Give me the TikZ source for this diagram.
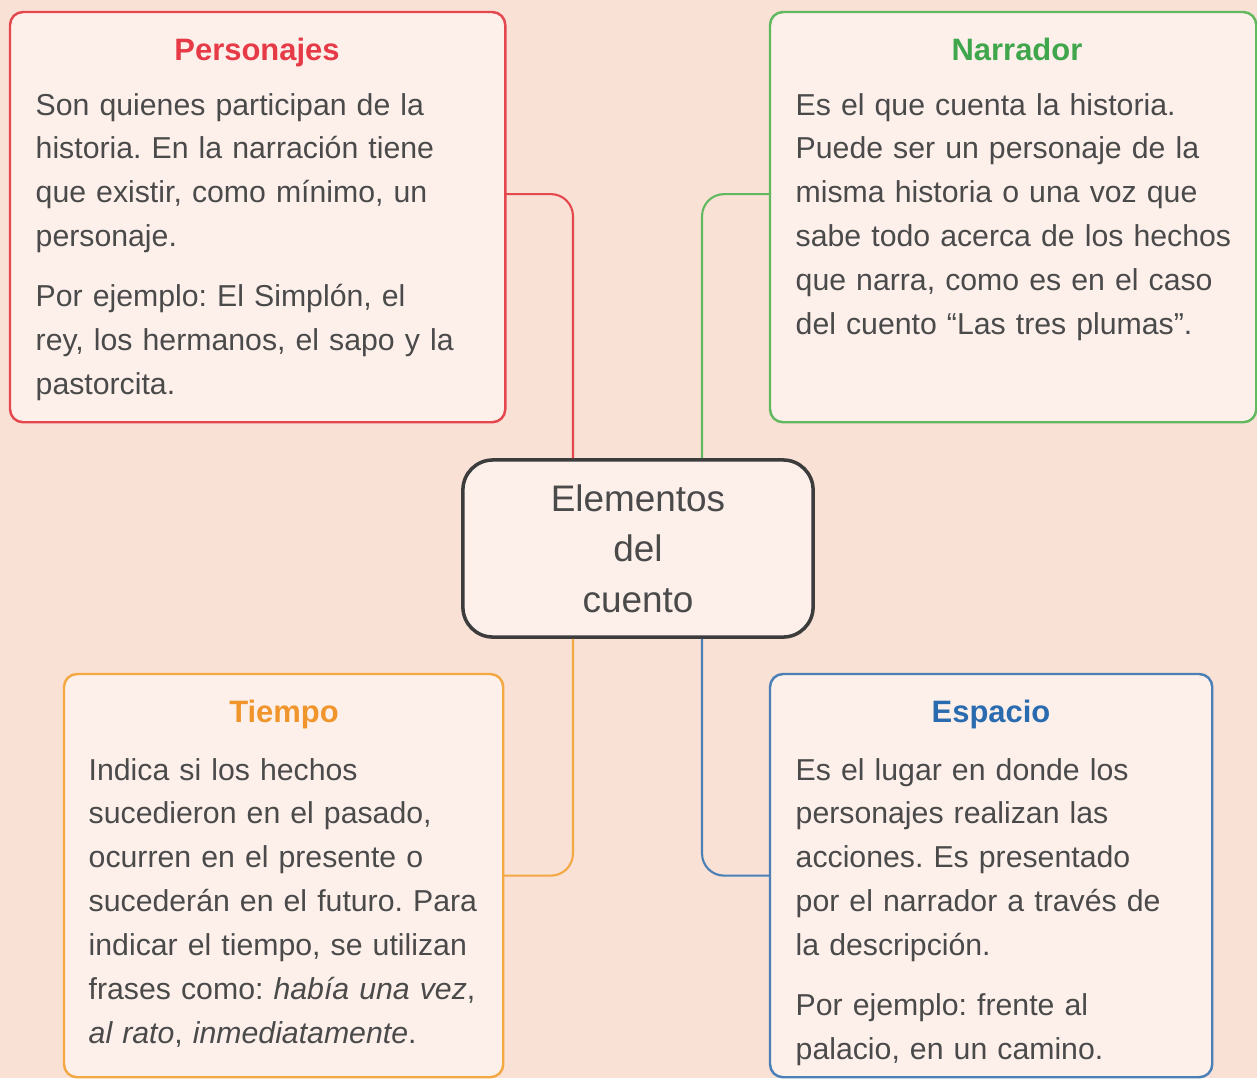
\documentclass[tikz,border=0pt]{standalone}
\usepackage{fontspec}
\setmainfont{Liberation Sans}
\usepackage{tikz}
\frenchspacing

\definecolor{fondo}{HTML}{F9E1D5}
\definecolor{relleno}{HTML}{FDF0EB}
\definecolor{texto}{HTML}{4A4A4A}
\definecolor{marco}{HTML}{3C3C3C}
\definecolor{rojo}{HTML}{E5474F}
\definecolor{rojoT}{HTML}{E63B47}
\definecolor{verde}{HTML}{62B85E}
\definecolor{verdeT}{HTML}{3FA64B}
\definecolor{naranja}{HTML}{F4A844}
\definecolor{naranjaT}{HTML}{F0952B}
\definecolor{azul}{HTML}{4A80B6}
\definecolor{azulT}{HTML}{2A6BB0}

\tikzset{
    caja/.style={draw=#1, fill=relleno, line width=0.7pt, rounded corners=0.13cm,
        inner sep=0pt, outer sep=0pt, anchor=north west},
    titulo/.style={text=#1, font=\fontsize{8.8}{10}\selectfont\bfseries, anchor=base, inner sep=0pt},
    cuerpo/.style={text=texto, font=\fontsize{8.6}{12.5}\selectfont\frenchspacing, text width=4.7cm,
        align=left, anchor=base west, inner sep=0pt},
    enlace/.style={draw=#1, line width=0.6pt, rounded corners=0.22cm}
}

\begin{document}
\begin{tikzpicture}[x=0.01cm,y=-0.01cm]
    \useasboundingbox (0,0) rectangle (1257,1078);
    \fill[fondo] (0,0) rectangle (1257,1078);
    \clip (0,0) rectangle (1257,1078);

    % cajas
    \node[caja=rojo, minimum width=4.95cm, minimum height=4.10cm] (personajes) at (10,12) {};
    \node[caja=verde, minimum width=4.86cm, minimum height=4.10cm] (narrador) at (770,12) {};
    \node[caja=naranja, minimum width=4.39cm, minimum height=4.03cm] (tiempo) at (64,674) {};
    \node[caja=azul, minimum width=4.42cm, minimum height=4.03cm] (espacio) at (770,674) {};
    \node[draw=marco, fill=relleno, line width=1pt, rounded corners=0.3cm, inner sep=0pt,
        minimum width=3.5cm, minimum height=1.77cm, align=center, text=texto,
        font=\fontsize{10.5}{14.4}\selectfont] (cuento) at (638,548.5) {Elementos\\del\\cuento};

    % enlaces
    \draw[enlace=rojo] ([xshift=-0.65cm]cuento.north) |- ([yshift=0.23cm]personajes.east);
    \draw[enlace=verde] ([xshift=0.64cm]cuento.north) |- ([yshift=0.23cm]narrador.west);
    \draw[enlace=naranja] ([xshift=-0.65cm]cuento.south) |- (tiempo.east);
    \draw[enlace=azul] ([xshift=0.64cm]cuento.south) |- (espacio.west);

    % titulos
    \node[titulo=rojoT] (personajesT) at (257,60) {Personajes};
    \node[titulo=verdeT] (narradorT) at (1017,60) {Narrador};
    \node[titulo=naranjaT] (tiempoT) at (284,722) {Tiempo};
    \node[titulo=azulT] (espacioT) at (991,722) {Espacio};

    % textos
    \node[cuerpo] (personajesC) at (35,115) {Son quienes participan de la\\
        historia. En la narración tiene\\
        que existir, como mínimo, un\\
        personaje.\\[4.5pt]
        Por ejemplo: El Simplón, el\\
        rey, los hermanos, el sapo y la\\
        pastorcita.};
    \node[cuerpo] (narradorC) at (795,115) {Es el que cuenta la historia.\\
        Puede ser un personaje de la\\
        misma historia o una voz que\\
        sabe todo acerca de los hechos\\
        que narra, como es en el caso\\
        del cuento “Las tres plumas”.};
    \node[cuerpo] (tiempoC) at (88,780) {Indica si los hechos\\
        sucedieron en el pasado,\\
        ocurren en el presente o\\
        sucederán en el futuro. Para\\
        indicar el tiempo, se utilizan\\
        frases como: \textit{había una vez},\\
        \textit{al rato}, \textit{inmediatamente}.};
    \node[cuerpo] (espacioC) at (795,780) {Es el lugar en donde los\\
        personajes realizan las\\
        acciones. Es presentado\\
        por el narrador a través de\\
        la descripción.\\[4.5pt]
        Por ejemplo: frente al\\
        palacio, en un camino.};
\end{tikzpicture}
\end{document}
